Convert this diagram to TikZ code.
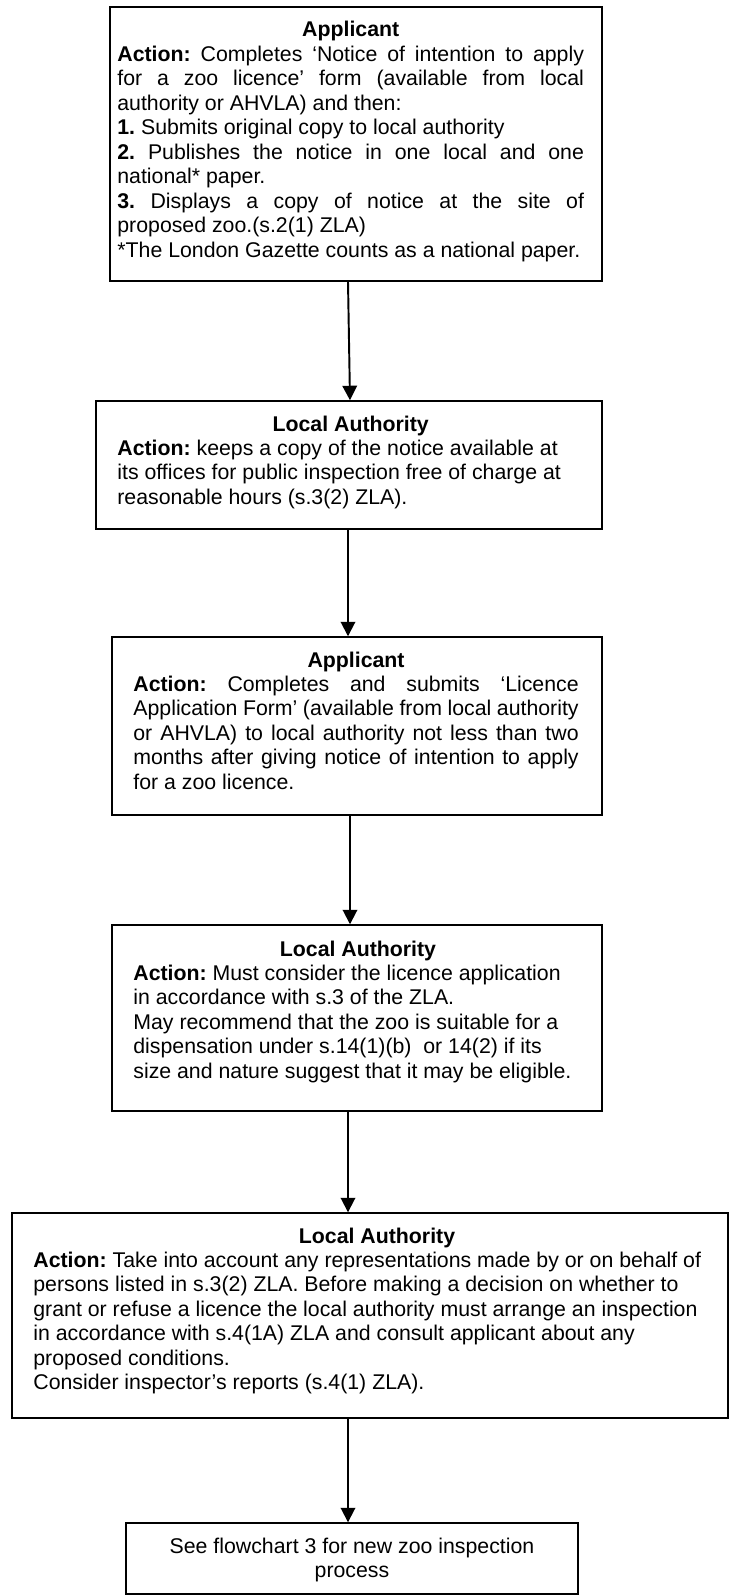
\documentclass[tikz,border=0pt]{standalone}
\usepackage{fontspec}
\setmainfont{Liberation Sans}
\usetikzlibrary{arrows.meta}
\def\pxu{0.5165pt}
\frenchspacing
\tikzset{
  box/.style={draw, line width=0.75pt, inner sep=0pt},
  txt/.style={inner sep=0pt, anchor=base west, font=\fontsize{11}{12.65}\selectfont\frenchspacing},
  arr/.style={line width=1pt, -{Triangle[length=7.5pt,width=7.5pt]}},
}
\begin{document}
\begin{tikzpicture}[x=0.5165pt, y=-0.5165pt]
\useasboundingbox (0,0) rectangle (729,1595);
% boxes
\node[box, minimum width=492*\pxu, minimum height=274*\pxu] (b1) at (356,144) {};
\node[box, minimum width=506*\pxu, minimum height=128*\pxu] (b2) at (349,465) {};
\node[box, minimum width=490*\pxu, minimum height=178*\pxu] (b3) at (357,726) {};
\node[box, minimum width=490*\pxu, minimum height=186*\pxu] (b4) at (357,1018) {};
\node[box, minimum width=716*\pxu, minimum height=205*\pxu] (b5) at (370,1315.5) {};
\node[box, minimum width=452*\pxu, minimum height=71*\pxu] (b6) at (352,1558.5) {};
% texts
\node[txt] (t1) at (117,37) {\begin{minipage}[t]{241pt}\frenchspacing\hyphenpenalty=10000\tolerance=10000
{\centering\bfseries Applicant\par}
\textbf{Action:} Completes ‘Notice of intention to apply\linebreak for a zoo licence’ form (available from local\linebreak authority or AHVLA) and then:\par
\textbf{1.} Submits original copy to local authority\par
\textbf{2.} Publishes the notice in one local and one\linebreak national* paper.\par
\textbf{3.} Displays a copy of notice at the site of\linebreak proposed zoo.(s.2(1) ZLA)\par
*The London Gazette counts as a national paper.
\end{minipage}};
\node[txt] (t2) at (117,431) {\begin{minipage}[t]{241pt}\frenchspacing\hyphenpenalty=10000
{\centering\bfseries Local Authority\par}
\raggedright
\textbf{Action:} keeps a copy of the notice available at\\
its offices for public inspection free of charge at\\
reasonable hours (s.3(2) ZLA).
\end{minipage}};
\node[txt] (t3) at (133,667) {\begin{minipage}[t]{230pt}\frenchspacing\hyphenpenalty=10000\tolerance=10000
{\centering\bfseries Applicant\par}
\textbf{Action:} Completes and submits ‘Licence\linebreak Application Form’ (available from local authority\linebreak or AHVLA) to local authority not less than two\linebreak months after giving notice of intention to apply\linebreak for a zoo licence.
\end{minipage}};
\node[txt] (t4) at (133,956) {\begin{minipage}[t]{232pt}\frenchspacing\hyphenpenalty=10000
{\centering\bfseries Local Authority\par}
\raggedright
\textbf{Action:} Must consider the licence application\\
in accordance with s.3 of the ZLA.\\
May recommend that the zoo is suitable for a\\
dispensation under s.14(1)(b)\ \ or 14(2) if its\\
size and nature suggest that it may be eligible.
\end{minipage}};
\node[txt] (t5) at (33,1243) {\begin{minipage}[t]{355pt}\frenchspacing\hyphenpenalty=10000
{\centering\bfseries Local Authority\par}
\raggedright
\textbf{Action:} Take into account any representations made by or on behalf of\\
persons listed in s.3(2) ZLA. Before making a decision on whether to\\
grant or refuse a licence the local authority must arrange an inspection\\
in accordance with s.4(1A) ZLA and consult applicant about any\\
proposed conditions.\\
Consider inspector’s reports (s.4(1) ZLA).
\end{minipage}};
\node[txt, anchor=base] (t6) at (352,1553) {\begin{minipage}[t]{230pt}\centering
See flowchart 3 for new zoo inspection\\
process
\end{minipage}};
% connectors
\draw[arr] ([xshift=-8*\pxu]b1.south) -- ([xshift=1*\pxu]b2.north);
\draw[arr] ([xshift=-1*\pxu]b2.south) -- ([xshift=-9*\pxu]b3.north);
\draw[arr] ([xshift=-7*\pxu]b3.south) -- ([xshift=-7*\pxu]b4.north);
\draw[arr] ([xshift=-9*\pxu]b4.south) -- ([xshift=-22*\pxu]b5.north);
\draw[arr] ([xshift=-22*\pxu]b5.south) -- ([xshift=-4*\pxu]b6.north);
\end{tikzpicture}
\end{document}
